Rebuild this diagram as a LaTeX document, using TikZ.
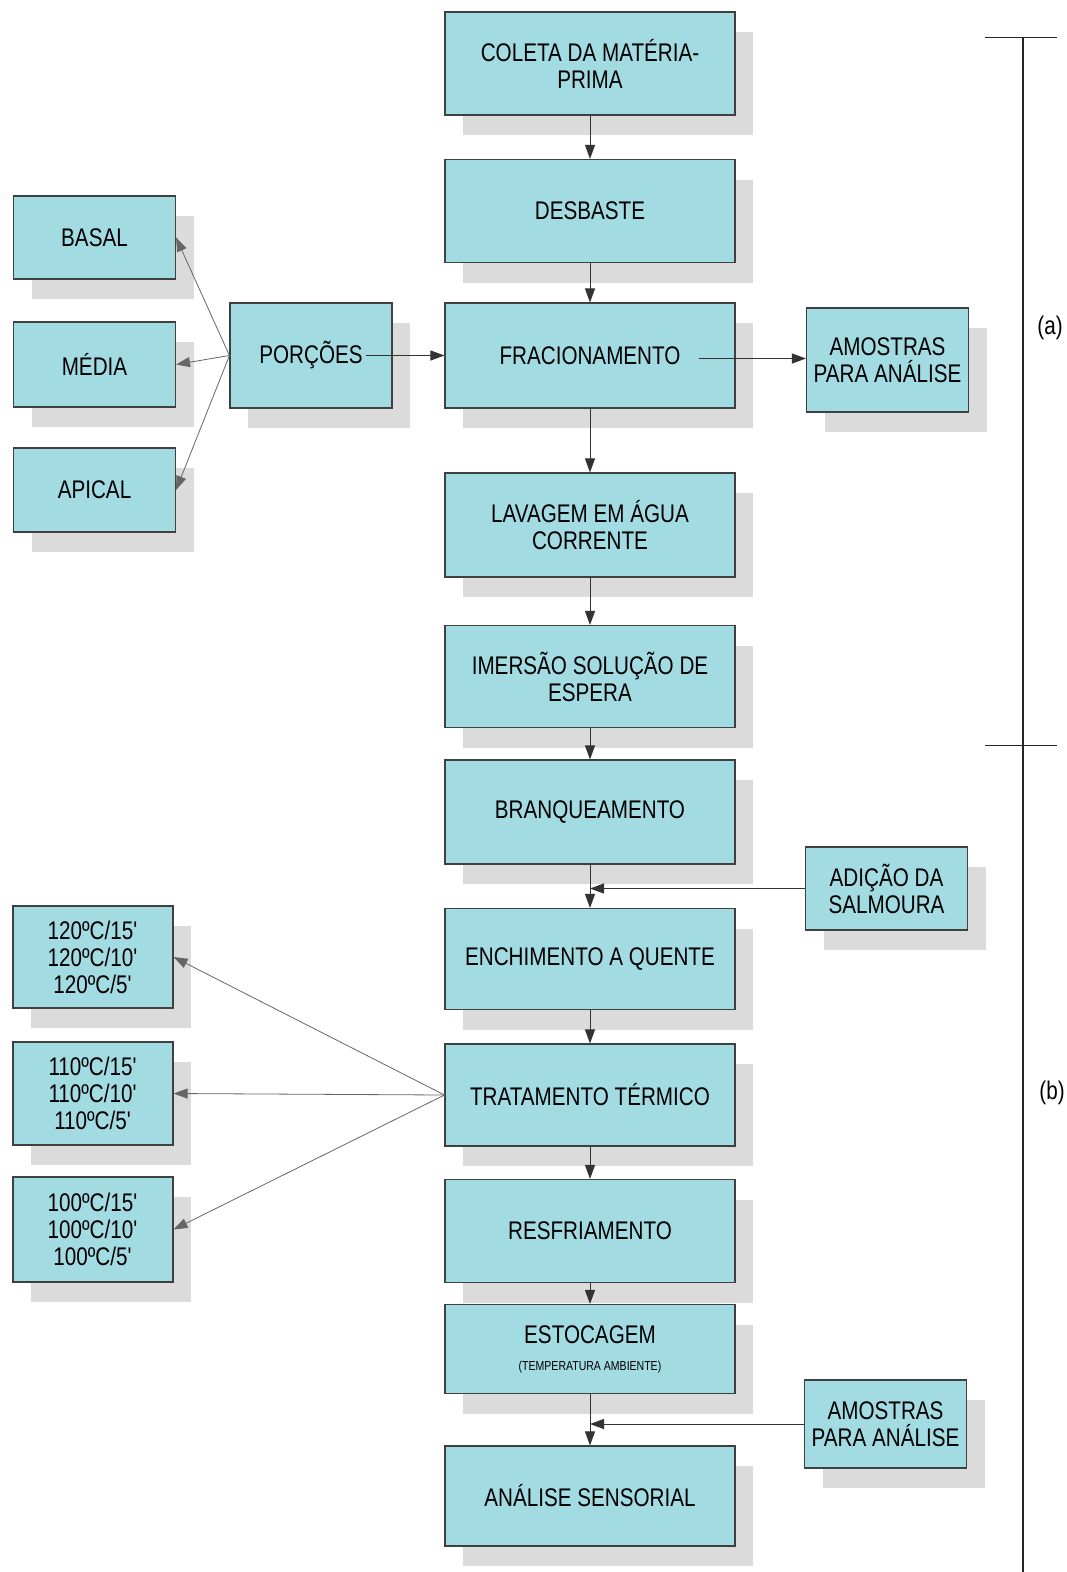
\documentclass[tikz,border=0pt]{standalone}
\usepackage{fontspec}
\setmainfont{Liberation Sans}[FakeStretch=0.81]
\usetikzlibrary{arrows.meta,shadows}
\definecolor{caixa}{RGB}{163,219,227}
\newcommand{\mn}{\textquotesingle}
\begin{document}
\begin{tikzpicture}[x=1pt,y=-1pt,
  box/.style={draw=black!75,line width=1.1pt,fill=caixa,align=center,inner sep=0pt,
    font=\fontsize{25.5}{27}\selectfont,
    drop shadow={shadow xshift=18pt,shadow yshift=-20pt,fill=black!14,opacity=1}},
  etapa/.style={box,minimum width=290pt,minimum height=103pt},
  lado/.style={box,minimum width=162pt,minimum height=86pt},
  seta/.style={-{Triangle[length=14pt,width=10pt]},draw=black!80,line width=1pt},
  ramo/.style={seta,draw=black!60,line width=0.8pt}]
\useasboundingbox (0,0) rectangle (1067,1572);
\node[etapa] (coleta) at (590,63.5) {COLETA DA MATÉRIA-\\PRIMA};
\node[etapa] (desbaste) at (590,211) {DESBASTE};
\node[etapa,minimum height=105pt] (frac) at (590,355.5) {FRACIONAMENTO};
\node[etapa,minimum height=104pt] (lavagem) at (590,525) {LAVAGEM EM ÁGUA\\CORRENTE};
\node[etapa,minimum height=102pt] (imersao) at (590,676.5) {IMERSÃO SOLUÇÃO DE\\ESPERA};
\node[etapa,minimum height=104pt] (branq) at (590,812) {BRANQUEAMENTO};
\node[etapa,minimum height=101pt] (enchim) at (590,959) {ENCHIMENTO A QUENTE};
\node[etapa,minimum height=102pt] (trat) at (590,1095) {TRATAMENTO TÉRMICO};
\node[etapa] (resfr) at (590,1231) {RESFRIAMENTO};
\node[etapa,minimum height=89pt] (estoc) at (590,1349) {ESTOCAGEM\\{\fontsize{13}{14}\selectfont (TEMPERATURA AMBIENTE)}};
\node[etapa,minimum height=100pt] (analise) at (590,1496) {ANÁLISE SENSORIAL};
\node[lado,minimum height=83pt] (basal) at (94.5,237.5) {BASAL};
\node[lado,minimum height=85pt] (media) at (94.5,364.5) {MÉDIA};
\node[lado,minimum height=84pt] (apical) at (94.5,490) {APICAL};
\node[lado,minimum height=105pt] (porcoes) at (311,355.5) {PORÇÕES};
\node[lado,minimum height=104pt] (amostrasA) at (887.5,360) {AMOSTRAS\\PARA ANÁLISE};
\node[lado,minimum height=83pt] (adicao) at (886.5,888.5) {ADIÇÃO DA\\SALMOURA};
\node[lado,minimum height=88pt] (amostrasB) at (885.5,1424) {AMOSTRAS\\PARA ANÁLISE};
\node[lado,minimum width=160pt,minimum height=102pt] (t120) at (93,957) {120ºC/15\mn\\120ºC/10\mn\\120ºC/5\mn};
\node[lado,minimum width=160pt,minimum height=103pt] (t110) at (93,1093.5) {110ºC/15\mn\\110ºC/10\mn\\110ºC/5\mn};
\node[lado,minimum width=160pt,minimum height=105pt] (t100) at (93,1229.5) {100ºC/15\mn\\100ºC/10\mn\\100ºC/5\mn};
\foreach \a/\b in {coleta/desbaste,desbaste/frac,frac/lavagem,lavagem/imersao,imersao/branq,
  branq/enchim,enchim/trat,trat/resfr,resfr/estoc,estoc/analise}
  \draw[seta] (\a.south) -- (\b.north);
\foreach \p in {basal,media,apical} \draw[ramo] (porcoes.west) -- (\p.east);
\foreach \t in {t120,t110,t100} \draw[ramo] (trat.west) -- (\t.east);
\draw[seta] ([xshift=-27pt]porcoes.east) -- (frac.west);
\coordinate (saida) at ([xshift=-37pt,yshift=-3pt]frac.east);
\draw[seta] (saida) -- (saida -| amostrasA.west);
\draw[seta] (adicao.west) -- (adicao.west -| enchim.north);
\draw[seta] (amostrasB.west) -- (amostrasB.west -| analise.north);
\draw[line width=1.3pt,black!85] (1023,37) -- (1023,1572);
\draw[line width=1pt,black!85] (985,37) -- (1057,37) (985,745) -- (1057,745);
\node[font=\fontsize{25.5}{27}\selectfont] (fa) at (1050,328) {(a)};
\node[font=\fontsize{25.5}{27}\selectfont] (fb) at (1052,1093) {(b)};
\end{tikzpicture}
\end{document}
